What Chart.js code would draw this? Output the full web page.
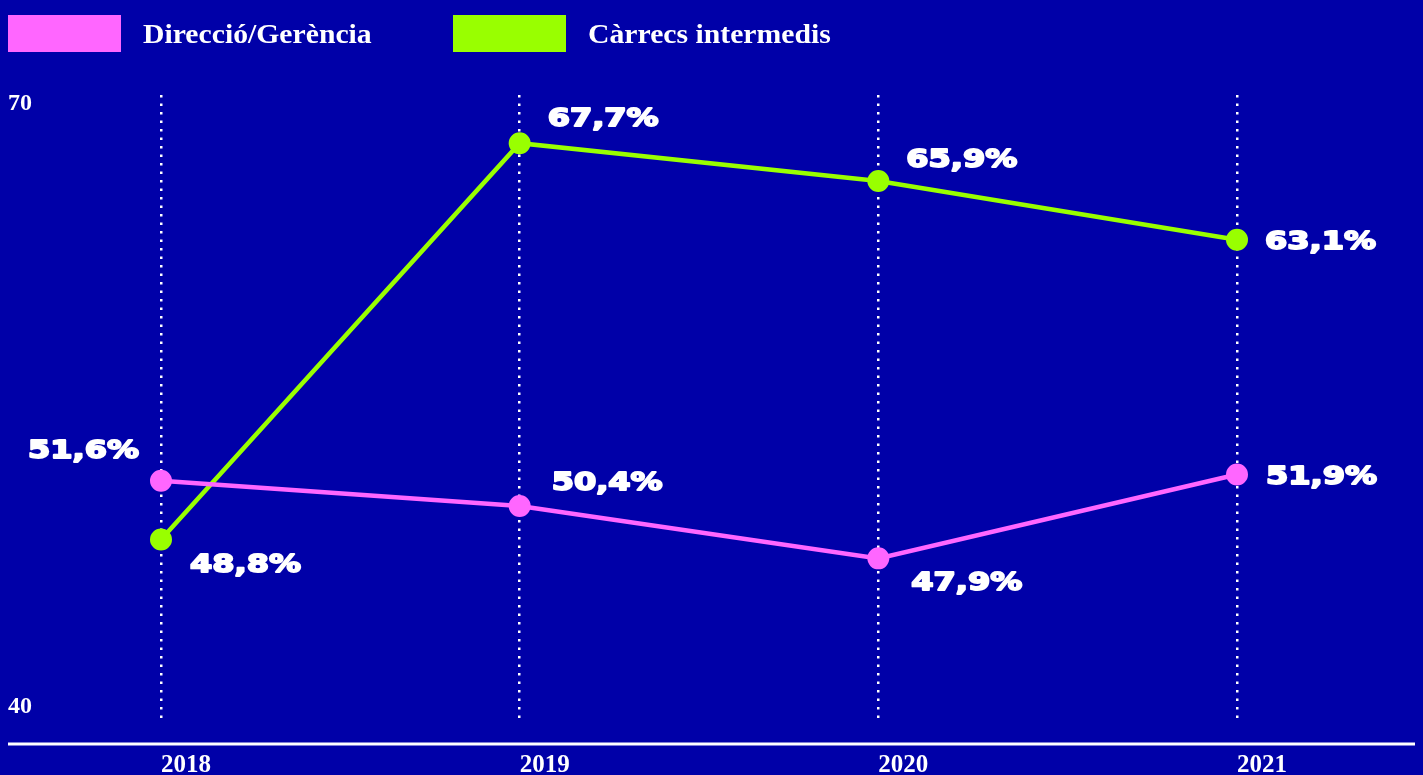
<!DOCTYPE html>
<html>
<head>
<meta charset="utf-8">
<script src="https://cdn.jsdelivr.net/npm/chart.js@4.4.1/dist/chart.umd.min.js"></script>
<style>
  html, body { margin: 0; padding: 0; background: #0000a8; overflow: hidden; }
  #wrap { width: 1423px; height: 775px; position: relative; }
</style>
</head>
<body>
<div id="wrap"><canvas id="c"></canvas></div>
<script>
// ---- data ----
const years = ['2018', '2019', '2020', '2021'];
const direccio = [51.6, 50.4, 47.9, 51.9];
const carrecs = [48.8, 67.7, 65.9, 63.1];
const seriesNames = ['Direcció/Gerència', 'Càrrecs intermedis'];
const yTickValues = [40, 70];

const BG = '#0000a8';
const PINK = '#ff66ff';
const GREEN = '#99ff00';
const SERIF = '"Liberation Serif", "DejaVu Serif", serif';
const WIDE = '"DejaVu Sans", sans-serif';

// label placement (style): offsets from point centre
const labelPlacement = [
  [ {align:'right', dx:-22, dy:-32}, {align:'left', dx:32, dy:-25}, {align:'left', dx:33, dy:23}, {align:'left', dx:29, dy:0} ],
  [ {align:'left', dx:29, dy:23}, {align:'left', dx:28, dy:-26}, {align:'left', dx:28, dy:-23}, {align:'left', dx:28, dy:0} ]
];

const bgPlugin = {
  id: 'bg',
  beforeDraw(chart) {
    const ctx = chart.ctx;
    ctx.save();
    ctx.fillStyle = BG;
    ctx.fillRect(0, 0, chart.width, chart.height);
    ctx.restore();
  }
};

const decorPlugin = {
  id: 'decor',
  afterDraw(chart) {
    const ctx = chart.ctx;
    const y = chart.scales.y;
    ctx.save();
    // legend
    const legendX = [8, 453];
    const lsx = 1.1;
    chart.data.datasets.forEach((ds, i) => {
      ctx.fillStyle = ds.borderColor;
      ctx.fillRect(legendX[i], 15, 113, 37);
      ctx.fillStyle = '#ffffff';
      ctx.font = 'bold 27px ' + SERIF;
      ctx.textAlign = 'left';
      ctx.textBaseline = 'alphabetic';
      ctx.save();
      ctx.scale(lsx, 1);
      ctx.fillText(ds.label, (legendX[i] + 135) / lsx, 43);
      ctx.restore();
    });
    // y tick labels
    ctx.font = 'bold 24px ' + SERIF;
    ctx.fillStyle = '#ffffff';
    ctx.textAlign = 'left';
    ctx.textBaseline = 'middle';
    yTickValues.forEach(v => {
      const py = y.getPixelForValue(v);
      const off = v === y.max ? 9 : -17;
      ctx.fillText(String(v), 8, py + off);
    });
    // baseline
    ctx.strokeStyle = '#ffffff';
    ctx.lineWidth = 3;
    ctx.beginPath();
    ctx.moveTo(8, 744);
    ctx.lineTo(1415, 744);
    ctx.stroke();
    ctx.restore();
  }
};

const valueLabelPlugin = {
  id: 'valueLabels',
  afterDatasetsDraw(chart) {
    const ctx = chart.ctx;
    const size = 25;
    const sx = 1.28;
    ctx.save();
    ctx.font = 'bold ' + size + 'px ' + WIDE;
    ctx.fillStyle = '#ffffff';
    ctx.strokeStyle = '#ffffff';
    ctx.lineWidth = 1.8;
    ctx.lineJoin = 'round';
    ctx.textBaseline = 'alphabetic';
    chart.data.datasets.forEach((ds, di) => {
      const meta = chart.getDatasetMeta(di);
      meta.data.forEach((pt, i) => {
        const txt = ds.data[i].toFixed(1).replace('.', ',') + '%';
        const pl = labelPlacement[di][i];
        const w = ctx.measureText(txt).width * sx;
        let x = pt.x + pl.dx;
        if (pl.align === 'right') x -= w;
        const baseY = pt.y + pl.dy + size * 0.365;
        ctx.save();
        ctx.scale(sx, 1);
        ctx.textAlign = 'left';
        ctx.fillText(txt, x / sx, baseY);
        ctx.strokeText(txt, x / sx, baseY);
        ctx.restore();
      });
    });
    ctx.restore();
  }
};

new Chart(document.getElementById('c'), {
  type: 'line',
  data: {
    labels: years,
    datasets: [
      {
        label: seriesNames[0],
        data: direccio,
        borderColor: PINK,
        backgroundColor: PINK,
        borderWidth: 4.5,
        pointRadius: 10,
        pointBorderWidth: 2,
        pointBackgroundColor: PINK,
        pointBorderColor: PINK,
        tension: 0,
        fill: false
      },
      {
        label: seriesNames[1],
        data: carrecs,
        borderColor: GREEN,
        backgroundColor: GREEN,
        borderWidth: 4.5,
        pointRadius: 10,
        pointBorderWidth: 2,
        pointBackgroundColor: GREEN,
        pointBorderColor: GREEN,
        tension: 0,
        fill: false
      }
    ]
  },
  options: {
    responsive: true,
    maintainAspectRatio: false,
    animation: false,
    layout: { padding: { left: 0, right: 186, top: 95, bottom: 0 } },
    plugins: {
      legend: { display: false },
      tooltip: { enabled: false }
    },
    scales: {
      x: {
        offset: false,
        border: { display: false, dash: [2.5, 6] },
        grid: {
          color: '#ffffff',
          lineWidth: 2.5,
          drawTicks: false
        },
        ticks: {
          align: 'start',
          color: '#ffffff',
          font: { family: SERIF, size: 25, weight: 'bold' },
          padding: 27,
          maxRotation: 0
        },
        afterFit(s) { s.height = 51; }
      },
      y: {
        min: 40,
        max: 70,
        border: { display: false },
        grid: { display: false },
        ticks: { display: false },
        afterFit(s) { s.width = 161; }
      }
    }
  },
  plugins: [bgPlugin, decorPlugin, valueLabelPlugin]
});
</script>
</body>
</html>
